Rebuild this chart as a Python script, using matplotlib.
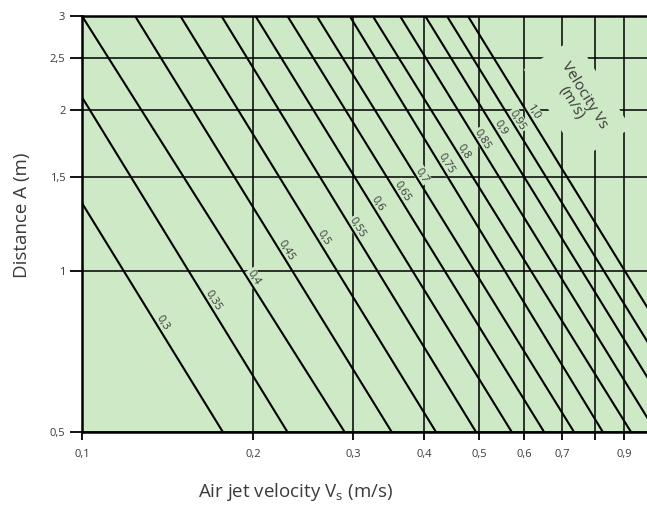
import numpy as np
import matplotlib
matplotlib.use("Agg")
import matplotlib.pyplot as plt
from matplotlib.ticker import FixedLocator, FixedFormatter, NullLocator

plt.rcParams['font.family'] = ['Open Sans', 'DejaVu Sans']

# ---- data ----
line_values = [0.3, 0.35, 0.4, 0.45, 0.5, 0.55, 0.6, 0.65, 0.7, 0.75, 0.8, 0.85, 0.9, 0.95, 1.0]
line_labels = ['0,3', '0,35', '0,4', '0,45', '0,5', '0,55', '0,6', '0,65', '0,7', '0,75', '0,8', '0,85', '0,9', '0,95', '1,0']
# x (air jet velocity) where each curve meets A = 3 m and A = 0.5 m
x_at_A3 = [0.0627, 0.0817, 0.100, 0.124, 0.149, 0.176, 0.202, 0.230, 0.259, 0.296, 0.325, 0.363, 0.402, 0.439, 0.478]
x_at_A05 = [0.177, 0.230, 0.290, 0.351, 0.420, 0.494, 0.571, 0.651, 0.735, 0.826, 0.926, 1.025, 1.134, 1.240, 1.350]
# distance A at which each curve label sits
label_A = [0.79, 0.87, 0.96, 1.08, 1.14, 1.19, 1.32, 1.39, 1.49, 1.57, 1.65, 1.74, 1.83, 1.89, 1.96]

x_ticks = [0.1, 0.2, 0.3, 0.4, 0.5, 0.6, 0.7, 0.8, 0.9]
x_tick_labels = ['0,1', '0,2', '0,3', '0,4', '0,5', '0,6', '0,7', '', '0,9']
y_ticks = [0.5, 1, 1.5, 2, 2.5, 3]
y_tick_labels = ['0,5', '1', '1,5', '2', '2,5', '3']

A_top, A_bot = 3.0, 0.5

bg = '#cde9c5'
txt = '#3a3a3a'

fig = plt.figure(figsize=(6.47, 5.15), dpi=100)
ax = fig.add_axes([82/647, 83/515, 1 - 82/647, 416/515])
ax.set_facecolor(bg)
ax.set_xscale('log')
ax.set_yscale('log')
ax.set_xlim(0.1, 0.988)
ax.set_ylim(0.5, 3.0)

ax.xaxis.set_major_locator(FixedLocator(x_ticks))
ax.xaxis.set_major_formatter(FixedFormatter(x_tick_labels))
ax.xaxis.set_minor_locator(NullLocator())
ax.yaxis.set_major_locator(FixedLocator(y_ticks))
ax.yaxis.set_major_formatter(FixedFormatter(y_tick_labels))
ax.yaxis.set_minor_locator(NullLocator())

ax.tick_params(axis='x', direction='out', length=6, width=1.3, color='black',
               labelsize=8, labelcolor=txt, pad=6)
ax.tick_params(axis='y', direction='out', length=9, width=1.3, color='black',
               labelsize=8, labelcolor=txt, pad=3)

ax.grid(True, which='major', color='black', linewidth=1.1, zorder=1)
ax.set_axisbelow(True)

for side in ['left', 'top', 'bottom']:
    ax.spines[side].set_linewidth(1.8)
    ax.spines[side].set_color('black')
ax.spines['right'].set_visible(False)

# curves
for xt, xb in zip(x_at_A3, x_at_A05):
    ax.plot([xt, xb], [A_top, A_bot], color='black', lw=1.5, zorder=4,
            solid_capstyle='butt')

fig.canvas.draw()

# labels along curves
for xt, xb, a, lab in zip(x_at_A3, x_at_A05, label_A, line_labels):
    t = (np.log10(a) - np.log10(A_top)) / (np.log10(A_bot) - np.log10(A_top))
    xl = 10 ** (np.log10(xt) + t * (np.log10(xb) - np.log10(xt)))
    p1 = ax.transData.transform((xt, A_top))
    p2 = ax.transData.transform((xb, A_bot))
    ang = np.degrees(np.arctan2(p2[1] - p1[1], p2[0] - p1[0]))
    ax.text(xl, a, lab, rotation=ang, rotation_mode='anchor', ha='center', va='bottom',
            fontsize=8, color=txt, zorder=3,
            bbox=dict(facecolor=bg, edgecolor='none', pad=1.0))

p1 = ax.transData.transform((x_at_A3[-1], A_top))
p2 = ax.transData.transform((x_at_A05[-1], A_bot))
ang = np.degrees(np.arctan2(p2[1] - p1[1], p2[0] - p1[0]))
ax.text(0.745, 2.1, 'Velocity Vs\n(m/s)', rotation=ang, rotation_mode='anchor',
        ha='center', va='center', multialignment='center', fontsize=11, color=txt,
        linespacing=1.0, zorder=3,
        bbox=dict(facecolor=bg, edgecolor='none', pad=11))

fig.text(296/647, 1 - 492/515, 'Air jet velocity V$_\\mathregular{s}$ (m/s)',
         ha='center', va='center', fontsize=13.5, color=txt)
fig.text(22/647, 1 - 215/515, 'Distance A (m)', rotation=90,
         ha='center', va='center', fontsize=13.5, color=txt)

fig.savefig('out.png', dpi=100, facecolor='white')
